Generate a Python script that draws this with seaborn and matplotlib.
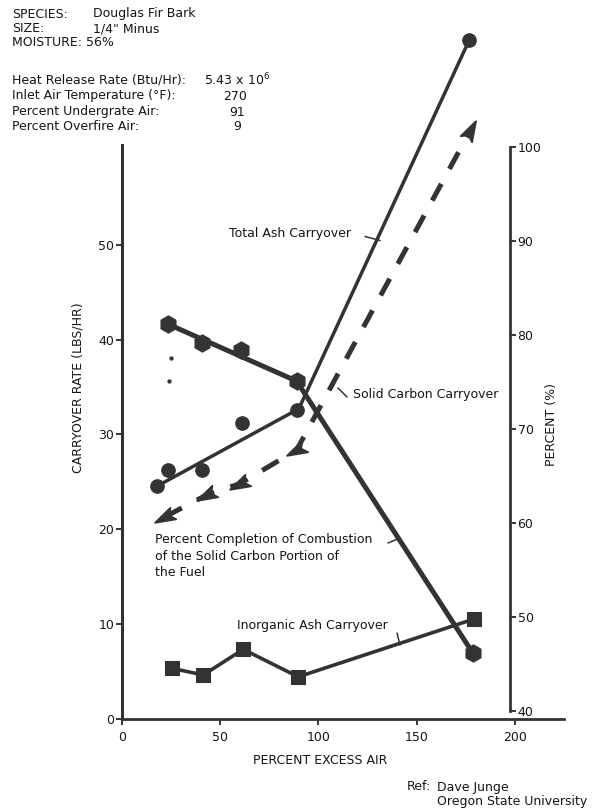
import matplotlib
matplotlib.use("Agg")
import matplotlib.pyplot as plt
import seaborn as sns
from matplotlib.path import Path
from matplotlib.markers import MarkerStyle
from matplotlib.transforms import Affine2D
from matplotlib.lines import Line2D

# axis ticks
excess_air_ticks = [0, 50, 100, 150, 200]
carryover_ticks = [0, 10, 20, 30, 40, 50]
percent_ticks = [40, 50, 60, 70, 80, 90, 100]

# Total ash carryover (lbs/hr) - measured points and drawn trend
total_ash_x = [18.0, 23.6, 40.6, 60.9, 88.9, 176.7]
total_ash_y = [24.55, 26.2, 26.2, 31.2, 32.6, 71.6]
total_ash_fit_x = [18.0, 90.0, 176.7]
total_ash_fit_y = [24.55, 32.7, 71.6]

# stray dots in the original
stray_x = [24.8, 23.9]
stray_y = [38.1, 35.6]

# Percent completion of combustion (right axis, %)
completion_x = [23.6, 40.6, 60.4, 88.9, 178.7]
completion_y = [81.15, 79.2, 78.4, 75.1, 46.1]
completion_fit_x = [23.6, 88.9, 178.7]
completion_fit_y = [81.15, 75.1, 46.1]

# Solid carbon carryover (lbs/hr)
carbon_x = [21.9, 43.1, 60.1, 88.9, 177.1]
carbon_y = [21.3, 23.6, 24.8, 28.35, 62.0]

# Inorganic ash carryover (lbs/hr)
inorganic_x = [25.3, 41.4, 61.7, 89.7, 179.1]
inorganic_y = [5.3, 4.6, 7.3, 4.4, 10.5]

W, H = 604, 810
ink = "#333333"
txt = "#151515"

sns.set_style("ticks")
plt.rcParams["font.family"] = ["DejaVu Sans"]
plt.rcParams["mathtext.fontset"] = "dejavusans"
FS = 9

fig = plt.figure(figsize=(W / 100, H / 100), dpi=100)
ax = fig.add_axes([122 / W, 1 - 718.5 / H, 442 / W, (718.5 - 145) / H])
ax.set_xlim(0, 225)
ax.set_ylim(0, 60.55)
ax2 = ax.twinx()
ax2.set_ylim(39.17, 100.24)

# lines
sns.lineplot(x=total_ash_fit_x, y=total_ash_fit_y, ax=ax, color=ink, lw=2.5,
             sort=False, estimator=None, clip_on=False)
sns.lineplot(x=carbon_x, y=carbon_y, ax=ax, color=ink, lw=3.6, sort=False,
             estimator=None, clip_on=False, linestyle=(0, (3.8, 3.4)))
sns.lineplot(x=inorganic_x, y=inorganic_y, ax=ax, color=ink, lw=2.6,
             sort=False, estimator=None)
sns.lineplot(x=completion_fit_x, y=completion_fit_y, ax=ax2, color=ink, lw=3.6,
             sort=False, estimator=None)

# markers
sns.scatterplot(x=total_ash_x, y=total_ash_y, ax=ax, color=ink, marker="o",
                s=95, edgecolor=ink, clip_on=False, zorder=5)
sns.scatterplot(x=stray_x, y=stray_y, ax=ax, color=ink, marker="o", s=8,
                edgecolor=ink, zorder=5)
sns.scatterplot(x=inorganic_x, y=inorganic_y, ax=ax, color=ink, marker="s",
                s=95, edgecolor=ink, zorder=5)
sns.scatterplot(x=completion_x, y=completion_y, ax=ax2, color=ink, marker="h",
                s=150, edgecolor=ink, zorder=5)

arrow = Path([(0, 1), (-0.55, -0.75), (0, -0.35), (0.55, -0.75), (0, 1)],
             [Path.MOVETO, Path.LINETO, Path.LINETO, Path.LINETO, Path.CLOSEPOLY])
down_left = MarkerStyle(arrow, transform=Affine2D().rotate_deg(117))
up_right = MarkerStyle(arrow, transform=Affine2D().rotate_deg(-28))
sns.scatterplot(x=carbon_x[:-1], y=carbon_y[:-1], ax=ax, color=ink,
                marker=down_left, s=280, edgecolor=ink, zorder=5)
sns.scatterplot(x=carbon_x[-1:], y=carbon_y[-1:], ax=ax, color=ink,
                marker=up_right, s=280, edgecolor=ink, clip_on=False, zorder=5)

# spines / ticks
for a in (ax, ax2):
    a.spines["top"].set_visible(False)
ax.spines["right"].set_visible(False)
ax2.spines["left"].set_visible(False)
ax2.spines["bottom"].set_visible(False)
ax.spines["left"].set_linewidth(2.2)
ax.spines["bottom"].set_linewidth(2.0)
ax2.spines["right"].set_linewidth(2.0)
ax2.spines["right"].set_position(("data", 197.5))
ax2.spines["right"].set_bounds(40, 100)
for s in ("left", "bottom"):
    ax.spines[s].set_color(ink)
ax2.spines["right"].set_color(ink)

ax.set_xticks(excess_air_ticks)
ax.set_yticks(carryover_ticks)
ax2.set_yticks(percent_ticks)
ax.tick_params(axis="x", length=4, width=1.2, pad=5, labelsize=FS, colors=txt)
ax.tick_params(axis="y", length=4, width=1.2, pad=1.5, labelsize=FS, colors=txt)
ax2.tick_params(axis="y", length=4, width=1.2, pad=1.5, labelsize=FS, colors=txt)
ax.set_xlabel("")
ax.set_ylabel("")
ax2.set_ylabel("")

def ftext(x, y, s, **kw):
    kw.setdefault("fontsize", FS)
    kw.setdefault("va", "center")
    kw.setdefault("color", txt)
    fig.text(x / W, 1 - y / H, s, **kw)

def leader(x0, y0, x1, y1):
    fig.add_artist(Line2D([x0 / W, x1 / W], [1 - y0 / H, 1 - y1 / H],
                          color=ink, lw=1.1))

# header block
ftext(12, 14, "SPECIES:")
ftext(93, 14, "Douglas Fir Bark")
ftext(12, 29, "SIZE:")
ftext(93, 29, "1/4\" Minus")
ftext(12, 43, "MOISTURE: 56%")
ftext(12, 80, "Heat Release Rate (Btu/Hr):")
ftext(204, 80, "5.43 x 10$^{6}$")
ftext(12, 96, "Inlet Air Temperature (\u00b0F):")
ftext(235, 96, "270", ha="center")
ftext(12, 112, "Percent Undergrate Air:")
ftext(237, 112, "91", ha="center")
ftext(12, 127, "Percent Overfire Air:")
ftext(237, 127, "9", ha="center")

# curve labels
ftext(229, 234, "Total Ash Carryover")
leader(365, 236.5, 380, 240.5)
ftext(353, 395, "Solid Carbon Carryover")
leader(338, 388, 347, 397)
ftext(155, 540, "Percent Completion of Combustion")
ftext(155, 556, "of the Solid Carbon Portion of")
ftext(155, 572, "the Fuel")
leader(388, 543, 400, 538)
ftext(237, 625, "Inorganic Ash Carryover")
leader(397, 633, 400, 645)

# axis titles
ftext(78, 388, "CARRYOVER RATE (LBS/HR)", rotation=90, ha="center")
ftext(552, 425, "PERCENT (%)", rotation=90, ha="center")
ftext(320, 761, "PERCENT EXCESS AIR", ha="center")

# reference
ftext(407, 787, "Ref:")
ftext(437, 787, "Dave Junge")
ftext(437, 802, "Oregon State University")

fig.savefig("out.png", dpi=100)
